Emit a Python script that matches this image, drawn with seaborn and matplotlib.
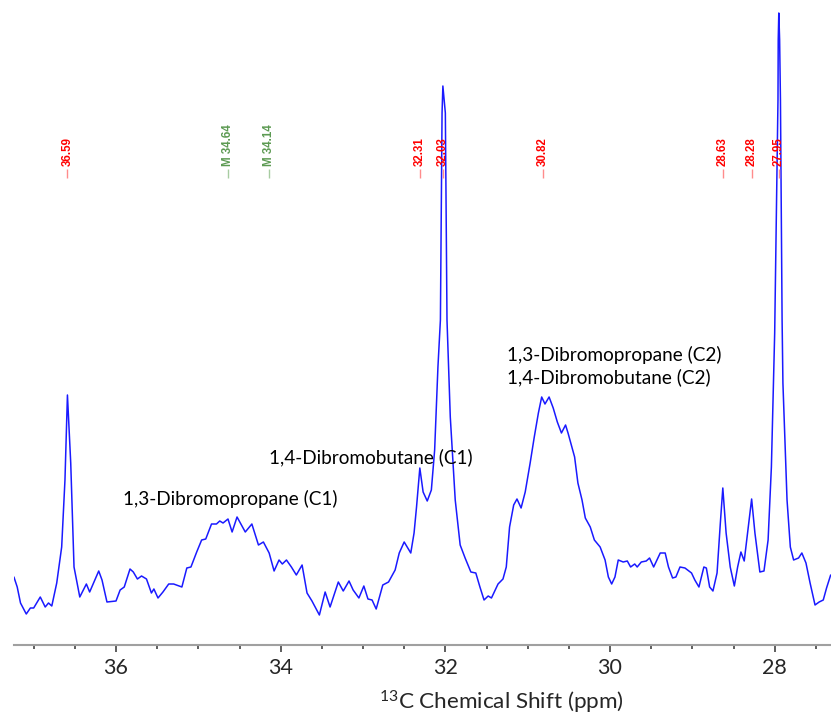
import matplotlib
matplotlib.use("Agg")
import matplotlib.pyplot as plt
import seaborn as sns
import pandas as pd

# ---- data ----
ppm = [37.24, 37.20, 37.16, 37.09, 37.04, 37.00, 36.92, 36.86, 36.82, 36.78,
       36.72, 36.66, 36.62, 36.59, 36.55, 36.51, 36.44, 36.36, 36.32, 36.21,
       36.17, 36.11, 36.00, 35.95, 35.90, 35.83, 35.79, 35.74, 35.69, 35.63,
       35.57, 35.54, 35.49, 35.43, 35.36, 35.30, 35.20, 35.14, 35.09, 35.02,
       34.96, 34.91, 34.84, 34.78, 34.74, 34.70, 34.64, 34.59, 34.53, 34.43,
       34.35, 34.27, 34.21, 34.14, 34.08, 34.02, 33.98, 33.93, 33.87, 33.81,
       33.74, 33.68, 33.62, 33.53, 33.46, 33.40, 33.30, 33.24, 33.17, 33.12,
       33.05, 32.99, 32.94, 32.89, 32.84, 32.76, 32.69, 32.61, 32.56, 32.50,
       32.42, 32.38, 32.35, 32.31, 32.27, 32.22, 32.17, 32.13, 32.09, 32.06,
       32.04, 32.03, 32.00, 31.98, 31.94, 31.88, 31.82, 31.76, 31.69, 31.63,
       31.58, 31.53, 31.48, 31.44, 31.36, 31.30, 31.26, 31.22, 31.17, 31.13,
       31.08, 31.03, 30.97, 30.92, 30.87, 30.83, 30.79, 30.74, 30.69, 30.64,
       30.59, 30.54, 30.51, 30.47, 30.43, 30.39, 30.34, 30.30, 30.24, 30.19,
       30.12, 30.06, 30.02, 29.98, 29.94, 29.90, 29.84, 29.79, 29.75, 29.70,
       29.67, 29.62, 29.56, 29.52, 29.47, 29.39, 29.33, 29.29, 29.24, 29.20,
       29.15, 29.09, 29.01, 28.97, 28.92, 28.86, 28.83, 28.79, 28.75, 28.70,
       28.66, 28.63, 28.59, 28.54, 28.49, 28.45, 28.41, 28.37, 28.32, 28.28,
       28.24, 28.18, 28.13, 28.08, 28.04, 28.00, 27.96, 27.957, 27.95, 27.94,
       27.93, 27.91, 27.90, 27.85, 27.81, 27.77, 27.71, 27.67, 27.62, 27.57,
       27.51, 27.46, 27.41, 27.37, 27.32]
intensity = [68, 58, 42, 31, 37, 37, 48, 38, 42, 39,
             62, 98, 165, 250, 182, 78, 48, 61, 53, 74,
             65, 43, 44, 55, 58, 76, 73, 66, 69, 66,
             52, 56, 47, 53, 61, 61, 58, 77, 78, 93,
             105, 106, 121, 121, 124, 122, 126, 113, 128, 113,
             121, 100, 103, 92, 74, 85, 81, 85, 78, 70,
             80, 52, 44, 30, 53, 38, 63, 54, 64, 55,
             47, 59, 46, 45, 36, 60, 63, 75, 92, 103,
             92, 112, 138, 177, 153, 144, 155, 195, 278, 325,
             532, 559, 532, 325, 228, 145, 100, 87, 73, 72,
             58, 45, 49, 47, 61, 66, 78, 118, 140, 146,
             137, 153, 182, 208, 232, 248, 241, 248, 237, 223,
             212, 220, 212, 200, 188, 162, 145, 127, 118, 105,
             98, 85, 68, 61, 68, 85, 83, 84, 78, 81,
             78, 83, 84, 87, 78, 92, 92, 78, 67, 68,
             78, 77, 72, 65, 58, 78, 77, 58, 54, 72,
             122, 157, 112, 78, 59, 78, 93, 84, 118, 146,
             112, 73, 74, 105, 178, 312, 545, 605, 632, 605,
             545, 325, 262, 145, 98, 85, 87, 92, 82, 62,
             40, 43, 45, 57, 70]

peak_red = [36.59, 32.31, 32.03, 30.82, 28.63, 28.28, 27.95]
peak_green = [34.64, 34.14]

annot_texts = ["1,3-Dibromopropane (C1)", "1,4-Dibromobutane (C1)",
               "1,3-Dibromopropane (C2)", "1,4-Dibromobutane (C2)"]
annot_x = [35.915, 34.142, 31.251, 31.251]
annot_y = [140, 182, 284, 262]

major_ticks = [36, 34, 32, 30, 28]
xlabel = r"$\mathregular{^{13}}$C Chemical Shift (ppm)"

# ---- plotting ----
sns.set_style("white")
plt.rcParams["font.family"] = ["Lato", "DejaVu Sans"]
plt.rcParams["mathtext.fontset"] = "custom"
plt.rcParams["mathtext.rm"] = "Lato"

W, H = 831, 722
fig = plt.figure(figsize=(W / 100, H / 100), dpi=100)
ax = fig.add_axes([14 / W, 1 - 645 / H, (W - 14) / W, 645 / H])

df = pd.DataFrame({"ppm": ppm, "intensity": intensity})
sns.lineplot(data=df, x="ppm", y="intensity", sort=False, estimator=None,
             color="#1a1aff", linewidth=1.1, ax=ax)

ax.set_xlim(37.239, 27.316)
ax.set_ylim(0, 645)

# annotations
for t, x, y in zip(annot_texts, annot_x, annot_y):
    ax.text(x, y, t, ha="left", va="baseline", fontsize=13.7, color="black")

# peak picks
for p in peak_red:
    ax.text(p, 479, f"{p:.2f}", rotation=90, ha="center", va="bottom",
            fontsize=8.3, fontweight="bold", color="#ff0000",
            family=["Liberation Sans", "DejaVu Sans"])
    ax.vlines(p, 467, 476, color="#ff8c8c", linewidth=1.0)
for p in peak_green:
    ax.text(p, 479, f"M {p:.2f}", rotation=90, ha="center", va="bottom",
            fontsize=8.3, fontweight="bold", color="#5c9a52",
            family=["Liberation Sans", "DejaVu Sans"])
    ax.vlines(p, 467, 476, color="#a8cca2", linewidth=1.0)

# axes styling
for s in ["left", "right", "top"]:
    ax.spines[s].set_visible(False)
ax.spines["bottom"].set_color("#a0a0a0")
ax.spines["bottom"].set_linewidth(1.5)
ax.set_yticks([])
ax.set_ylabel("")
ax.set_xticks(major_ticks)
ax.set_xticklabels([str(t) for t in major_ticks])
ax.set_xticks([v / 2 for v in range(55, 75)], minor=True)
ax.tick_params(axis="x", which="major", direction="out", length=5, width=1.1,
               color="#333333", labelsize=15.5, pad=4, bottom=True)
ax.tick_params(axis="x", which="minor", direction="out", length=3, width=1.1,
               color="#333333", bottom=True)
ax.set_xlabel(xlabel, fontsize=16.2)
ax.xaxis.set_label_coords((501 - 14) / (W - 14), -0.068)

fig.savefig("out.png", dpi=100)
